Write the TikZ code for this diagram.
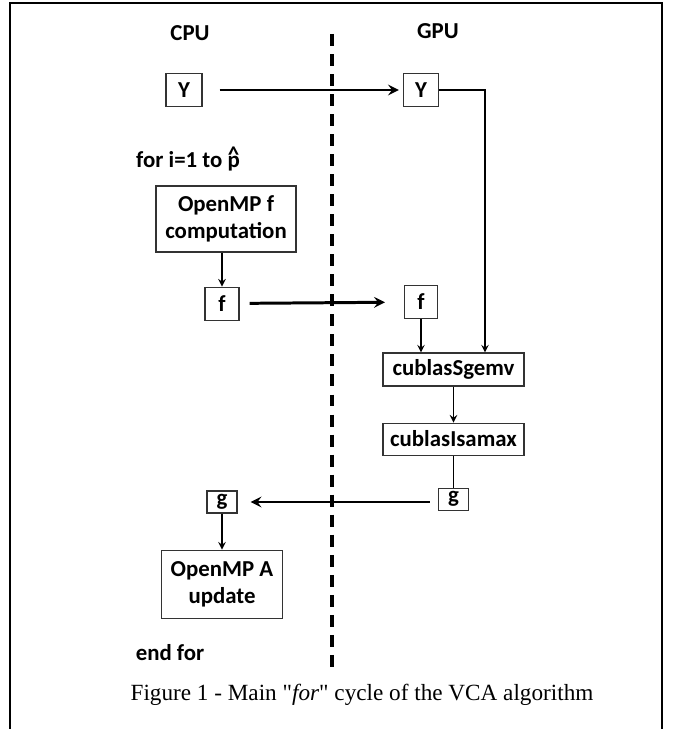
\documentclass[tikz,border=0pt]{standalone}
\usepackage{fontspec}
\setmainfont{Carlito}
\newfontfamily\capfont{Liberation Serif}
\usetikzlibrary{arrows,positioning}
\newcommand{\phat}{\ooalign{p\cr\hidewidth\raisebox{0.22em}{\textasciicircum}\hidewidth\cr}}

\begin{document}
\begin{tikzpicture}[
    x=0.02cm, y=-0.02cm,
    font=\fontsize{13}{15.5}\selectfont\bfseries,
    varbox/.style={rectangle, draw=black!80, line width=0.6pt, inner sep=0pt},
    procbox/.style={rectangle, draw=black!80, line width=0.6pt, inner sep=0pt, align=center},
    lbl/.style={inner sep=0pt},
    arrow/.style={->, >=stealth, line width=0.9pt},
    xfer/.style={->, >=stealth, line width=1.7pt},
    link/.style={line width=0.9pt}
]
\useasboundingbox (0,0) rectangle (672,729);

% Frame
\draw[line width=1.6pt] (10,729) -- (10,3) -- (662,3) -- (662,729);

% CPU / GPU separation
\draw[line width=2.8pt, dash pattern=on 6.8pt off 4.6pt] (332,34) -- (332,668);

% Headings
\node[lbl] (cpu) at (190,33) {CPU};
\node[lbl] (gpu) at (438,31) {GPU};

% Y on both sides
\node[varbox, minimum width=0.72cm, minimum height=0.66cm] (ycpu) at (184,90) {Y};
\node[varbox, minimum width=0.7cm, minimum height=0.66cm] (ygpu) at (421,90) {Y};

% CPU loop
\node[lbl] (forlbl) at (188,160) {for i=1 to \phat};
\node[procbox, minimum width=2.8cm, minimum height=1.32cm] (ompf) at (226,219) {OpenMP f\\computation};
\node[varbox, minimum width=0.68cm, minimum height=0.66cm, below=0.68cm of ompf.south, anchor=north, xshift=-0.08cm] (fcpu) {f};

% GPU side
\node[varbox, minimum width=0.66cm, minimum height=0.66cm] (fgpu) at (421,302) {f};
\node[procbox, minimum width=2.82cm, minimum height=0.66cm] (sgemv) at (453.5,369.5) {cublasSgemv};
\node[procbox, minimum width=2.82cm, minimum height=0.64cm, below=0.72cm of sgemv] (isamax) {cublasIsamax};
\node[varbox, minimum width=0.6cm, minimum height=0.44cm, below=0.64cm of isamax] (ggpu) {g};

% back on CPU
\node[varbox, minimum width=0.6cm, minimum height=0.44cm] (gcpu) at (222,502) {g};
\node[procbox, minimum width=2.42cm, minimum height=1.36cm, below=0.72cm of gcpu] (ompa) {OpenMP A\\update};
\node[lbl] (endfor) at (170,653) {end for};

% Caption
\node[lbl, font=\capfont\fontsize{13.2}{15}\selectfont] (caption) at (362,695) {Figure 1 - Main "\textit{for}" cycle of the VCA algorithm};

% Arrows
\draw[xfer, shorten <=0.34cm, shorten >=0.08cm] (ycpu) -- (ygpu);
\draw[arrow] (ygpu.east) -| ([xshift=0.63cm]sgemv.north);
\draw[arrow] (ompf.south -| fcpu) -- (fcpu);
\draw[xfer, shorten <=0.2cm, shorten >=0.38cm] (fcpu) -- (fgpu);
\draw[arrow] (fgpu) -- (fgpu |- sgemv.north);
\draw[arrow] (sgemv) -- (isamax);
\draw[link] (isamax) -- (ggpu);
\draw[xfer, shorten <=0.16cm, shorten >=0.26cm] (ggpu.west |- gcpu) -- (gcpu);
\draw[arrow] (gcpu) -- (ompa);

\end{tikzpicture}
\end{document}
